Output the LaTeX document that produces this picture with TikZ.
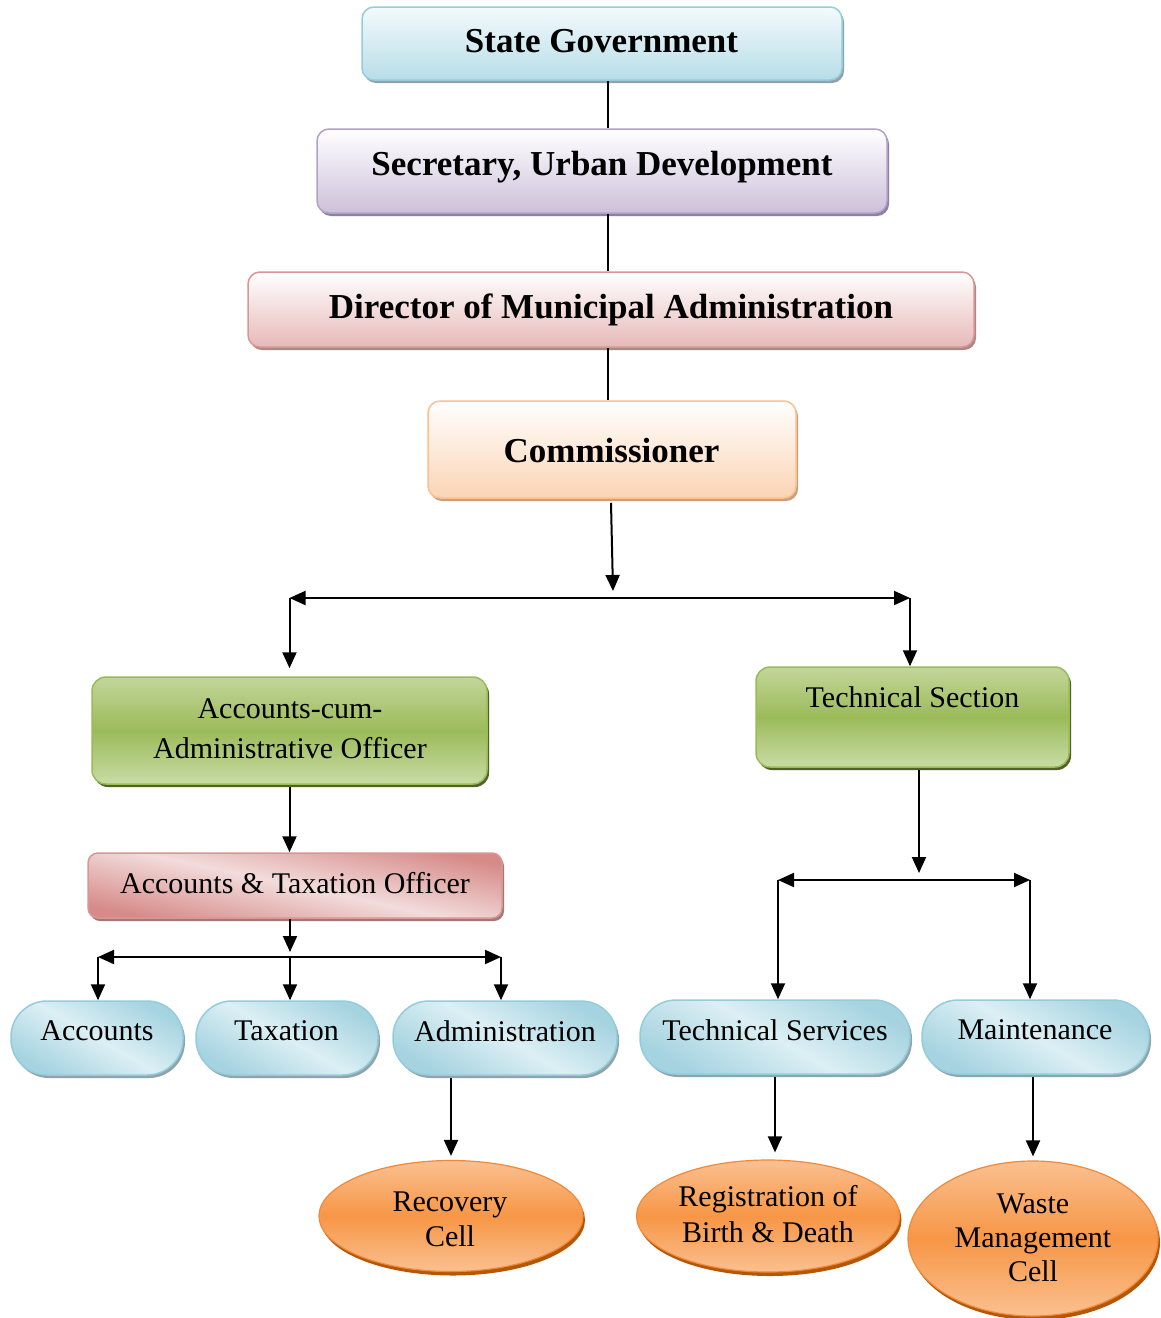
\documentclass[tikz,border=0pt]{standalone}
\usepackage{fontspec}
\setmainfont{Liberation Serif}
\usetikzlibrary{arrows.meta,shapes.geometric,shadows}
\definecolor{sgT}{HTML}{F4FAFC}\definecolor{sgM}{HTML}{B7DDE8}\definecolor{sgB}{HTML}{93CDDD}\definecolor{sgS}{HTML}{8FA2A8}
\definecolor{seT}{HTML}{FFFFFF}\definecolor{seM}{HTML}{CCC0DA}\definecolor{seB}{HTML}{B2A1C7}\definecolor{seS}{HTML}{8E7FA3}
\definecolor{diT}{HTML}{FFFFFF}\definecolor{diM}{HTML}{E6B9B8}\definecolor{diB}{HTML}{D99694}\definecolor{diS}{HTML}{A98886}
\definecolor{coT}{HTML}{FFFFFF}\definecolor{coM}{HTML}{FBD4B4}\definecolor{coB}{HTML}{FAC090}\definecolor{coS}{HTML}{C9A07E}
\definecolor{grT}{HTML}{C3D69B}\definecolor{grM}{HTML}{9BBB59}\definecolor{grL}{HTML}{C8DCA6}\definecolor{grS}{HTML}{4F6228}
\definecolor{atE}{HTML}{D68B89}\definecolor{atM}{HTML}{F2DCDB}\definecolor{atS}{HTML}{A07876}
\definecolor{plE}{HTML}{A5D3E0}\definecolor{plM}{HTML}{DCEFF4}\definecolor{plB}{HTML}{93CDDD}\definecolor{plS}{HTML}{8FA3A9}
\definecolor{elE}{HTML}{FAC090}\definecolor{elM}{HTML}{F79646}\definecolor{elB}{HTML}{F08A3A}\definecolor{elS}{HTML}{B65708}
\tikzset{
  conn/.style={line width=2pt, draw=black},
  arr/.style={conn, -{Triangle[length=16pt,width=14pt]}},
  darr/.style={conn, {Triangle[length=16pt,width=14pt]}-{Triangle[length=16pt,width=14pt]}},
  boldlbl/.style={font=\fontsize{35}{40}\selectfont\bfseries, inner sep=0pt, text depth=0pt},
  lbl/.style={font=\fontsize{30}{36}\selectfont, inner sep=0pt, text depth=0pt},
  mlbl/.style={font=\fontsize{30}{#1}\selectfont, inner sep=0pt, align=center},
  shbox/.style={rectangle, rounded corners=12pt, line width=1.5pt, inner sep=0pt},
  sgbox/.style={shbox, draw=sgB, top color=sgT, bottom color=sgM,
    drop shadow={shadow xshift=2pt, shadow yshift=-3pt, fill=sgS, opacity=1}},
  sebox/.style={shbox, draw=seB, top color=seT, bottom color=seM,
    drop shadow={shadow xshift=2pt, shadow yshift=-3pt, fill=seS, opacity=1}},
  dibox/.style={shbox, draw=diB, top color=diT, bottom color=diM,
    drop shadow={shadow xshift=2pt, shadow yshift=-3pt, fill=diS, opacity=1}},
  cobox/.style={shbox, draw=coB, top color=coT, bottom color=coM,
    drop shadow={shadow xshift=2pt, shadow yshift=-3pt, fill=coS, opacity=1}},
  grbox/.style={shbox, rounded corners=14pt, draw=grM, top color=grT, bottom color=grL, middle color=grM,
    drop shadow={shadow xshift=2pt, shadow yshift=-3pt, fill=grS, opacity=1}},
  atbox/.style={shbox, rounded corners=10pt, draw=diB, top color=atE, bottom color=atE, middle color=atM, shading angle=-12,
    drop shadow={shadow xshift=2pt, shadow yshift=-3pt, fill=atS, opacity=1}},
  pill/.style={shbox, rounded corners=36pt, draw=plB, top color=plE, bottom color=plE, middle color=plM, shading angle=-30,
    minimum height=74pt,
    drop shadow={shadow xshift=2pt, shadow yshift=-3pt, fill=plS, opacity=1}},
  oval/.style={ellipse, line width=1.2pt, inner sep=0pt, draw=elB, top color=elE, bottom color=elE, middle color=elM,
    drop shadow={shadow xshift=2pt, shadow yshift=-4pt, fill=elS, opacity=1}},
}
\begin{document}
\begin{tikzpicture}[x=1pt, y=-1pt]
\fill[white] (0,0) rectangle (1161,1318);
\useasboundingbox (0,0) rectangle (1161,1318);

% boxes
\node[sgbox, minimum width=480pt, minimum height=73pt] (sg) at (602,43.5) {};
\node[sebox, minimum width=570pt, minimum height=84pt] (sec) at (602,171) {};
\node[dibox, minimum width=726pt, minimum height=75pt] (dir) at (611,309.5) {};
\node[cobox, minimum width=368pt, minimum height=97pt] (com) at (612,449.5) {};
\node[grbox, minimum width=395pt, minimum height=107pt] (acao) at (289.5,730.5) {};
\node[grbox, minimum width=313pt, minimum height=100pt] (ts) at (912.5,717) {};
\node[atbox, minimum width=414pt, minimum height=65pt] (ato) at (295,885.5) {};
\node[pill, minimum width=172pt] (acc) at (97,1038) {};
\node[pill, minimum width=182pt] (tax) at (287,1038) {};
\node[pill, minimum width=224pt] (adm) at (505,1038) {};
\node[pill, minimum width=270pt] (tsv) at (775,1037) {};
\node[pill, minimum width=227pt] (mnt) at (1035.5,1037) {};
\node[oval, minimum width=264pt, minimum height=111pt] (rc) at (451,1216) {};
\node[oval, minimum width=263pt, minimum height=112pt] (reg) at (768,1216) {};
\node[oval, minimum width=250pt, minimum height=155pt] (wmc) at (1033,1238.5) {};

% texts
\node[boldlbl] (sgt) at (601.5,40.5) {State Government};
\node[boldlbl] (sect) at (602,163) {Secretary, Urban Development};
\node[boldlbl] (dirt) at (611,306) {Director of Municipal Administration};
\node[boldlbl] (comt) at (611.5,450) {Commissioner};
\node[mlbl=40] (acaot) at (290,729) {Accounts-cum-\\Administrative Officer};
\node[lbl] (tst) at (912.5,697.5) {Technical Section};
\node[lbl] (atot) at (295,883) {Accounts \& Taxation Officer};
\node[lbl] (acct) at (97,1031) {Accounts};
\node[lbl] (taxt) at (286.5,1031) {Taxation};
\node[lbl] (admt) at (505,1031) {Administration};
\node[lbl] (tsvt) at (775,1030) {Technical Services};
\node[lbl] (mntt) at (1035,1030) {Maintenance};
\node[mlbl=35] (rct) at (450,1219.5) {Recovery\\Cell};
\node[mlbl=36] (regt) at (768,1214) {Registration of\\Birth \& Death};
\node[mlbl=34] (wmct) at (1033,1237.5) {Waste\\Management\\Cell};

% connectors
\draw[conn] ([xshift=6pt]sg.south) -- ([xshift=6pt]sec.north);
\draw[conn] ([xshift=6pt]sec.south) -- ([xshift=-3pt]dir.north);
\draw[conn] ([xshift=-3pt]dir.south) -- ([xshift=-4pt]com.north);
\coordinate (c1) at (613,591);
\draw[arr] ([xshift=-1pt,yshift=-4pt]com.south) -- (c1);
\coordinate (b1l) at (289.5,598);
\coordinate (b1r) at (910,598);
\draw[darr] (b1l) -- (b1r);
\draw[arr, shorten >=8pt] (b1l) -- (b1l |- acao.north);
\draw[arr] (b1r) -- (b1r |- ts.north);

\draw[arr] ([yshift=-2pt]acao.south) -- (acao.south |- ato.north);
\coordinate (c2) at (290,952);
\draw[arr] (ato.south -| c2) -- (c2);
\coordinate (b2l) at (98,957);
\coordinate (b2m) at (290,957);
\coordinate (b2r) at (501,957);
\draw[darr] (b2l) -- (b2r);
\draw[arr] (b2l) -- (b2l |- acc.north);
\draw[arr] (b2m) -- (b2m |- tax.north);
\draw[arr] (b2r) -- (b2r |- adm.north);

\coordinate (c3) at (919,873);
\draw[arr] ([yshift=-2pt]ts.south -| c3) -- (c3);
\coordinate (b3l) at (778,880);
\coordinate (b3r) at (1030,880);
\draw[darr] (b3l) -- (b3r);
\draw[arr] (b3l) -- (b3l |- tsv.north);
\draw[arr] (b3r) -- (b3r |- mnt.north);

\draw[arr, shorten >=4pt] ([yshift=-2pt]rc.north |- adm.south) -- (rc.north);
\draw[arr, shorten >=7pt] ([yshift=-2pt]tsv.south) -- (tsv.south |- reg.north);
\draw[arr, shorten >=4pt] ([yshift=-2pt]wmc.north |- mnt.south) -- (wmc.north);
\end{tikzpicture}
\end{document}
